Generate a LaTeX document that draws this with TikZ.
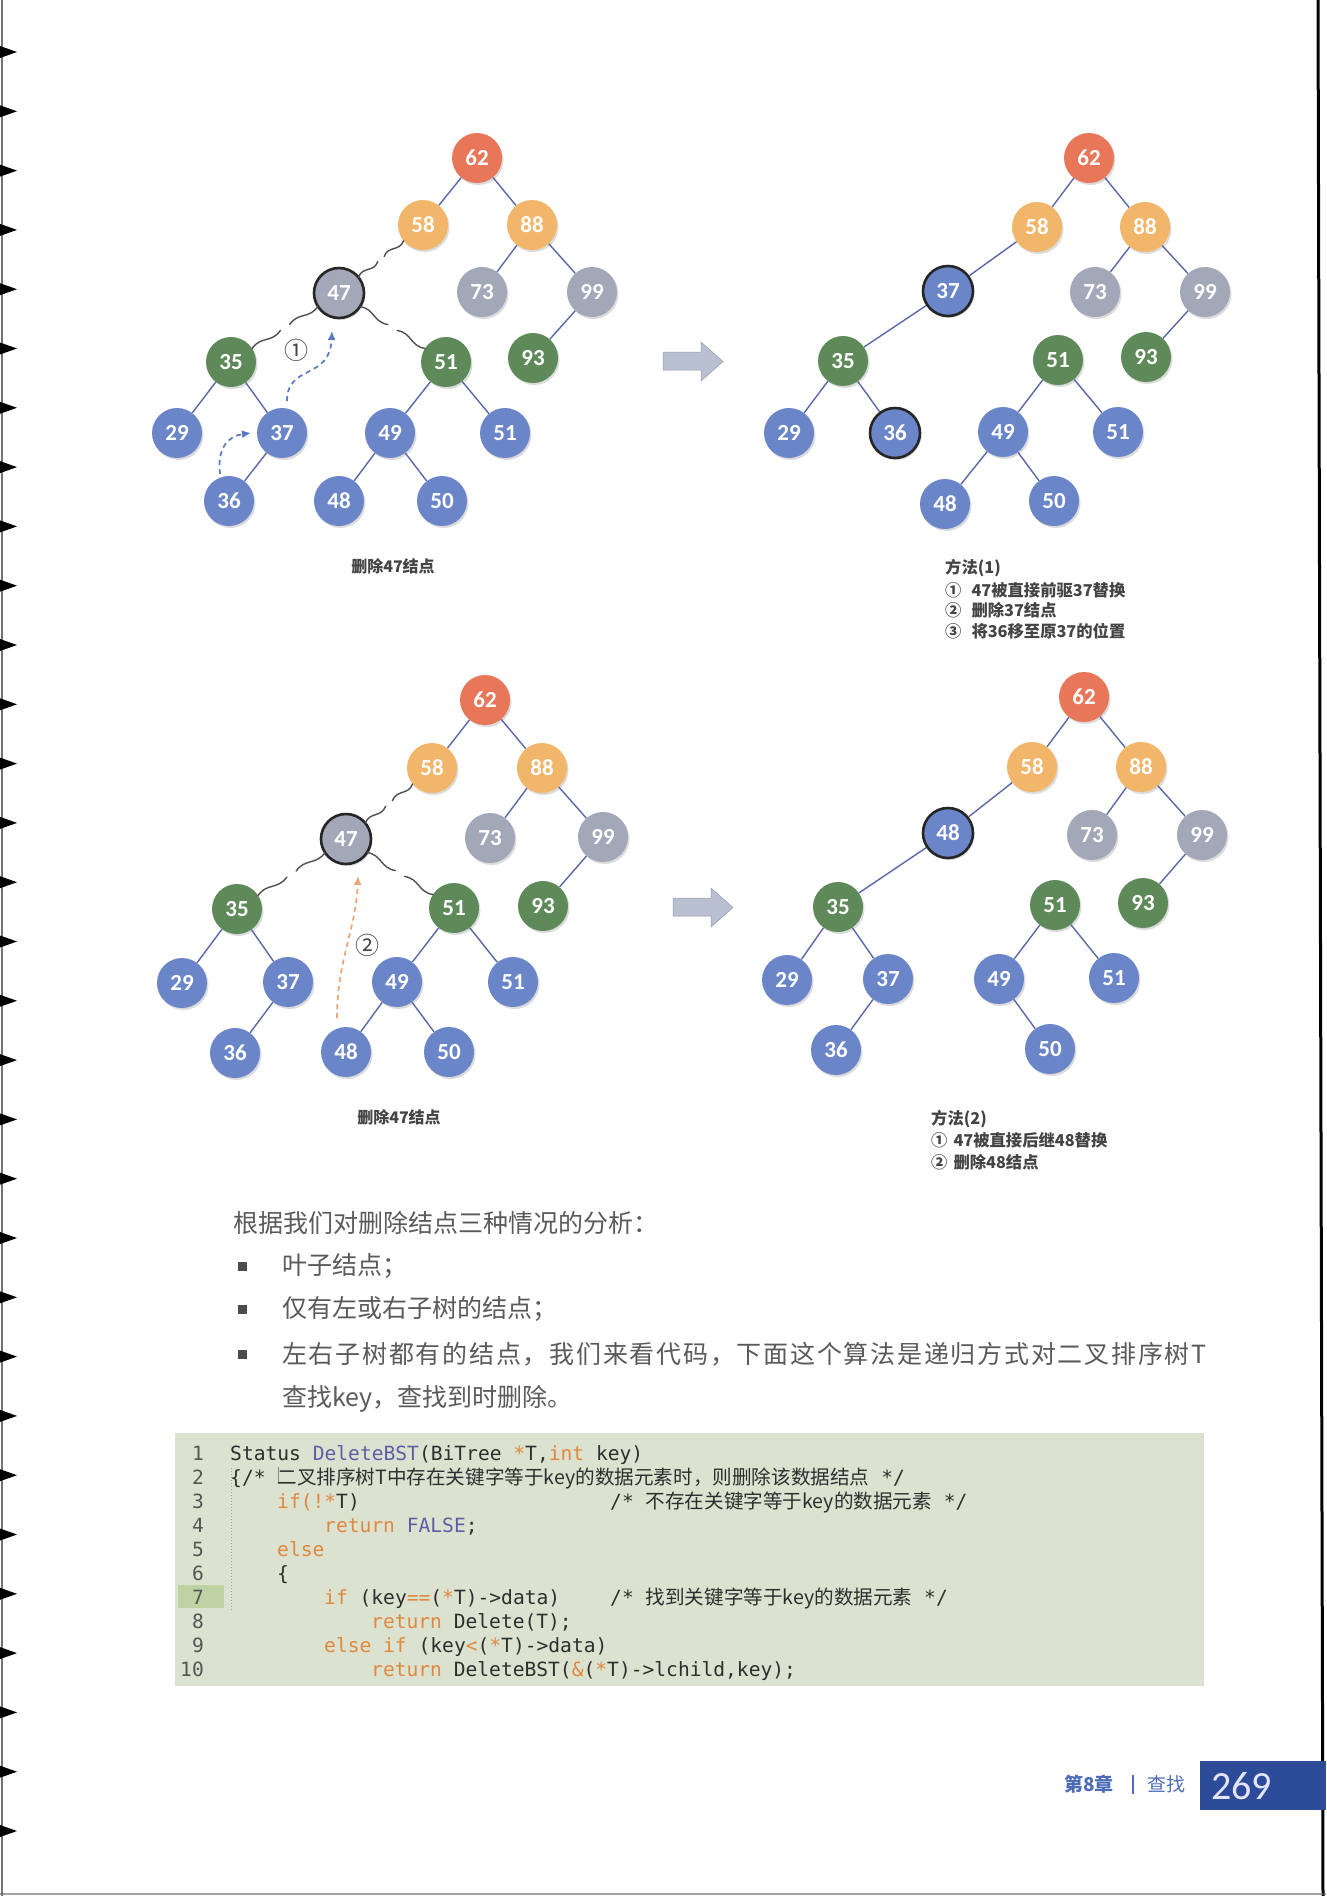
\documentclass[tikz,border=0pt]{standalone}
\usepackage{fontspec}
\setmainfont{Liberation Sans}
\newfontfamily\cjk{Noto Sans CJK SC}
\newfontfamily\numf{Carlito}
\newfontfamily\monof{DejaVu Sans Mono}
\usetikzlibrary{calc,arrows.meta,shadows}
\definecolor{cRed}{HTML}{E8775A}
\definecolor{cOrange}{HTML}{F2B66B}
\definecolor{cGray}{HTML}{A2A8B8}
\definecolor{cGreen}{HTML}{5E8A5A}
\definecolor{cBlue}{HTML}{6B86C8}
\definecolor{cEdge}{HTML}{5B68A6}
\definecolor{cWave}{HTML}{505050}
\definecolor{cArrB}{HTML}{5B79C0}
\definecolor{cArrO}{HTML}{E9A57A}
\definecolor{cBig}{HTML}{B8C0D2}
\definecolor{cCap}{HTML}{444444}
\definecolor{cPara}{HTML}{5A5A5A}
\definecolor{cCodeBg}{HTML}{DCE2D0}
\definecolor{cLine7}{HTML}{BFD2A4}
\definecolor{cKey}{HTML}{E0883E}
\definecolor{cFun}{HTML}{5D5FA6}
\definecolor{cCode}{HTML}{2E2E2E}
\definecolor{cNum}{HTML}{555555}
\definecolor{cFoot}{HTML}{4D6CB8}
\definecolor{cFootBox}{HTML}{2C4B98}
\newcommand\cm{\monof\fontsize{19.6}{24}\selectfont}
\newcommand\ko[1]{\textcolor{cKey}{#1}}
\newcommand\kf[1]{\textcolor{cFun}{#1}}
\newcommand\cc[1]{{\cjk\fontsize{19.6}{24}\selectfont #1}}
\newcommand\spiece[2]{%
  \draw[wavyline] (#1) .. controls ($(#1)!0.42!(#2)!6pt!90:(#2)$) and ($(#1)!0.58!(#2)!6pt!-90:(#2)$) .. (#2);}
\newcommand\wavyconn[2]{%
  \coordinate (wA) at ($(#1)!25pt!(#2)$);
  \coordinate (wB) at ($(#2)!25pt!(#1)$);
  \coordinate (wM1) at ($(wA)!0.43!(wB)$);
  \coordinate (wM2) at ($(wA)!0.57!(wB)$);
  \spiece{wA}{wM1}
  \spiece{wM2}{wB}}
\tikzset{
  tn/.style={circle, minimum size=50pt, inner sep=0pt, text=white,
    font=\numf\bfseries\fontsize{23}{23}\selectfont,
    drop shadow={opacity=0.28, shadow xshift=1.5pt, shadow yshift=-2pt}},
  nred/.style={tn, fill=cRed},
  norange/.style={tn, fill=cOrange},
  ngray/.style={tn, fill=cGray},
  ngreen/.style={tn, fill=cGreen},
  nblue/.style={tn, fill=cBlue},
  sel/.style={draw=black!85, line width=2.6pt},
  tedge/.style={draw=cEdge, line width=1.4pt},
  wavyline/.style={draw=cWave, line width=1.4pt, line cap=round},
  darrow/.style={dash pattern=on 5pt off 4pt, line width=1.7pt, -{Latex[length=9pt,width=8pt]}},
  capt/.style={font=\cjk\bfseries\fontsize{16}{16}\selectfont, text=cCap, inner sep=0pt},
  notetext/.style={font=\cjk\bfseries\fontsize{16.3}{16.3}\selectfont, text=cCap, inner sep=0pt, anchor=west},
  paratext/.style={font=\cjk\fontsize{25}{25}\selectfont, text=cPara, inner sep=0pt, anchor=west},
  codeline/.style={font=\cm, text=cCode, inner sep=0pt, anchor=base west},
  lnum/.style={font=\cm, text=cNum, inner sep=0pt, anchor=base east},
  bigarrow/.style={fill=cBig, draw=cBig!80!black, line width=0.5pt}
}
\begin{document}
\begin{tikzpicture}[x=1pt,y=-1pt]
\useasboundingbox (0,0) rectangle (1326,1896);
\fill[white] (0,0) rectangle (1326,1896);

% ---------- page edges ----------
\draw[black!55, line width=2pt] (2,0) -- (2,1896);
\foreach \k in {0,...,30}{
  \fill[black] (0,{52+59.3*\k-6}) -- (17,{52+59.3*\k}) -- (0,{52+59.3*\k+6}) -- cycle;
}
\draw[black, line width=3pt] (1318,0) -- (1323,1896);
\draw[black!60, line width=2pt, opacity=0.6] (0,1894) -- (1326,1894);

% ---------- Tree 1 ----------
\node[nred]    (a62) at (477,158) {62};
\node[norange] (a58) at (423,225) {58};
\node[norange] (a88) at (532,225) {88};
\node[ngray,sel] (a47) at (339,293) {47};
\node[ngray]   (a73) at (482,292) {73};
\node[ngray]   (a99) at (592,292) {99};
\node[ngreen]  (a35) at (231,362) {35};
\node[ngreen]  (a51) at (446,362) {51};
\node[ngreen]  (a93) at (533,358) {93};
\node[nblue]   (a29) at (177,433) {29};
\node[nblue]   (a37) at (282,433) {37};
\node[nblue]   (a49) at (390,433) {49};
\node[nblue]   (a51b) at (505,433) {51};
\node[nblue]   (a36) at (229,501) {36};
\node[nblue]   (a48) at (339,501) {48};
\node[nblue]   (a50) at (442,501) {50};
\foreach \u/\v in {a62/a58,a62/a88,a88/a73,a88/a99,a99/a93,a35/a29,a35/a37,a37/a36,a51/a49,a51/a51b,a49/a48,a49/a50}
  \draw[tedge] (\u) -- (\v);
\wavyconn{a58}{a47}
\wavyconn{a47}{a35}
\wavyconn{a47}{a51}
\coordinate (r1s) at (220,474);
\coordinate (r1e) at (251,433);
\draw[darrow, cArrB] (r1s) .. controls (217,448) and (228,436) .. (r1e);
\coordinate (r2s) at (287,401);
\coordinate (r2e) at (332,331);
\draw[darrow, cArrB] (r2s) .. controls (287,364) and (330,380) .. (r2e);
\node[font=\cjk\fontsize{24}{24}\selectfont, text=cCap, inner sep=0pt] (l1) at (296,350) {①};
\node[capt] (cap1) at (393,566) {删除47结点};

% big arrow 1
\path[bigarrow] (663,352) -- (701,352) -- (701,342) -- (723,361.5) -- (701,381) -- (701,370) -- (663,370) -- cycle;

% ---------- Tree 2 ----------
\node[nred]    (b62) at (1089,158) {62};
\node[norange] (b58) at (1037,227) {58};
\node[norange] (b88) at (1145,227) {88};
\node[nblue,sel] (b37) at (948,291) {37};
\node[ngray]   (b73) at (1095,292) {73};
\node[ngray]   (b99) at (1205,292) {99};
\node[ngreen]  (b35) at (843,361) {35};
\node[ngreen]  (b51) at (1058,360) {51};
\node[ngreen]  (b93) at (1146,357) {93};
\node[nblue]   (b29) at (789,433) {29};
\node[nblue,sel] (b36) at (895,433) {36};
\node[nblue]   (b49) at (1003,432) {49};
\node[nblue]   (b51b) at (1118,432) {51};
\node[nblue]   (b48) at (945,504) {48};
\node[nblue]   (b50) at (1054,501) {50};
\foreach \u/\v in {b62/b58,b62/b88,b58/b37,b37/b35,b35/b29,b35/b36,b88/b73,b88/b99,b99/b93,b51/b49,b51/b51b,b49/b48,b49/b50}
  \draw[tedge] (\u) -- (\v);
\node[notetext] (m1t) at (945,568) {方法(1)};
\node[notetext] (m1a) at (945,590) {①\hspace{10pt}47被直接前驱37替换};
\node[notetext] (m1b) at (945,610) {②\hspace{10pt}删除37结点};
\node[notetext] (m1c) at (945,631) {③\hspace{10pt}将36移至原37的位置};

% ---------- Tree 3 ----------
\node[nred]    (c62) at (485,700) {62};
\node[norange] (c58) at (432,768) {58};
\node[norange] (c88) at (542,768) {88};
\node[ngray,sel] (c47) at (346,839) {47};
\node[ngray]   (c73) at (490,838) {73};
\node[ngray]   (c99) at (603,837) {99};
\node[ngreen]  (c35) at (237,909) {35};
\node[ngreen]  (c51) at (454,908) {51};
\node[ngreen]  (c93) at (543,906) {93};
\node[nblue]   (c29) at (182,983) {29};
\node[nblue]   (c37) at (288,982) {37};
\node[nblue]   (c49) at (397,982) {49};
\node[nblue]   (c51b) at (513,982) {51};
\node[nblue]   (c36) at (235,1053) {36};
\node[nblue]   (c48) at (346,1052) {48};
\node[nblue]   (c50) at (449,1052) {50};
\foreach \u/\v in {c62/c58,c62/c88,c88/c73,c88/c99,c99/c93,c35/c29,c35/c37,c37/c36,c51/c49,c51/c51b,c49/c48,c49/c50}
  \draw[tedge] (\u) -- (\v);
\wavyconn{c58}{c47}
\wavyconn{c47}{c35}
\wavyconn{c47}{c51}
\coordinate (r3s) at (337,1018);
\coordinate (r3e) at (358,876);
\draw[darrow, cArrO] (r3s) .. controls (337,960) and (356,930) .. (r3e);
\node[font=\cjk\fontsize{24}{24}\selectfont, text=cCap, inner sep=0pt] (l2) at (367,945) {②};
\node[capt] (cap3) at (399,1117) {删除47结点};

% big arrow 2
\path[bigarrow] (673,898) -- (711,898) -- (711,888) -- (733,907.5) -- (711,927) -- (711,916) -- (673,916) -- cycle;

% ---------- Tree 4 ----------
\node[nred]    (d62) at (1084,697) {62};
\node[norange] (d58) at (1032,767) {58};
\node[norange] (d88) at (1141,767) {88};
\node[nblue,sel] (d48) at (948,833) {48};
\node[ngray]   (d73) at (1092,835) {73};
\node[ngray]   (d99) at (1202,835) {99};
\node[ngreen]  (d35) at (838,907) {35};
\node[ngreen]  (d51) at (1055,905) {51};
\node[ngreen]  (d93) at (1143,903) {93};
\node[nblue]   (d29) at (787,980) {29};
\node[nblue]   (d37) at (888,979) {37};
\node[nblue]   (d49) at (999,979) {49};
\node[nblue]   (d51b) at (1114,978) {51};
\node[nblue]   (d36) at (836,1050) {36};
\node[nblue]   (d50) at (1050,1049) {50};
\foreach \u/\v in {d62/d58,d62/d88,d58/d48,d48/d35,d35/d29,d35/d37,d37/d36,d88/d73,d88/d99,d99/d93,d51/d49,d51/d51b,d49/d50}
  \draw[tedge] (\u) -- (\v);
\node[notetext] (m2t) at (931,1119) {方法(2)};
\node[notetext] (m2a) at (931,1140) {①\hspace{6pt}47被直接后继48替换};
\node[notetext] (m2b) at (931,1162) {②\hspace{6pt}删除48结点};

% ---------- paragraph ----------
\node[paratext] (p0) at (233,1223) {根据我们对删除结点三种情况的分析：};
\fill[black!70] (238,1262) rectangle (247,1271);
\node[paratext] (p1) at (282,1266) {叶子结点；};
\fill[black!70] (238,1305) rectangle (247,1314);
\node[paratext] (p2) at (282,1309) {仅有左或右子树的结点；};
\fill[black!70] (238,1350) rectangle (247,1359);
\node[paratext] (p3) at (282,1354) {\addfontfeature{LetterSpace=7}左右子树都有的结点，我们来看代码，下面这个算法是递归方式对二叉排序树T};
\node[paratext] (p4) at (282,1399) {查找key，查找到时删除。};

% ---------- code block ----------
\fill[cCodeBg] (175,1433) rectangle (1204,1686);
\fill[cLine7] (178,1585) rectangle (224,1608);
\draw[black!35, line width=0.6pt, dash pattern=on 1pt off 2pt] (231,1468) -- (231,1612);
\draw[black!45, line width=0.8pt] (278,1467) -- (278,1484);
\foreach \n [count=\i from 0] in {1,...,10}
  \node[lnum] (ln\n) at (204,{1460+24*\i}) {\n};
\node[codeline] (k1) at (230,1460) {Status \kf{DeleteBST}(BiTree \ko{*}T,\ko{int} key)};
\node[codeline] (k2) at (230,1484) {\{/* \cc{二叉排序树T中存在关键字等于key的数据元素时，则删除该数据结点} */};
\node[codeline] (k3) at (277,1508) {\ko{if(!*}T)};
\node[codeline] (k3c) at (610,1508) {/* \cc{不存在关键字等于key的数据元素} */};
\node[codeline] (k4) at (324,1532) {\ko{return} \kf{FALSE};};
\node[codeline] (k5) at (277,1556) {\ko{else}};
\node[codeline] (k6) at (277,1580) {\{};
\node[codeline] (k7) at (324,1604) {\ko{if} (key\ko{==}(\ko{*}T)->data)};
\node[codeline] (k7c) at (610,1604) {/* \cc{找到关键字等于key的数据元素} */};
\node[codeline] (k8) at (371,1628) {\ko{return} Delete(T);};
\node[codeline] (k9) at (324,1652) {\ko{else if} (key\ko{<}(\ko{*}T)->data)};
\node[codeline] (k10) at (371,1676) {\ko{return} DeleteBST(\ko{\&}(\ko{*}T)->lchild,key);};

% ---------- footer ----------
\node[font=\cjk\bfseries\fontsize{19}{19}\selectfont, text=cFoot, inner sep=0pt, anchor=west] (f1) at (1064,1784) {第8章};
\draw[cFoot, line width=1.2pt] (1133,1775) -- (1133,1794);
\node[font=\cjk\fontsize{19}{19}\selectfont, text=cFoot, inner sep=0pt, anchor=west] (f2) at (1147,1784) {查找};
\fill[cFootBox] (1200,1761) rectangle (1326,1810);
\node[font=\numf\fontsize{40}{40}\selectfont, text=white!90!blue, inner sep=0pt, anchor=west] (pg) at (1211,1786) {269};
\end{tikzpicture}
\end{document}
